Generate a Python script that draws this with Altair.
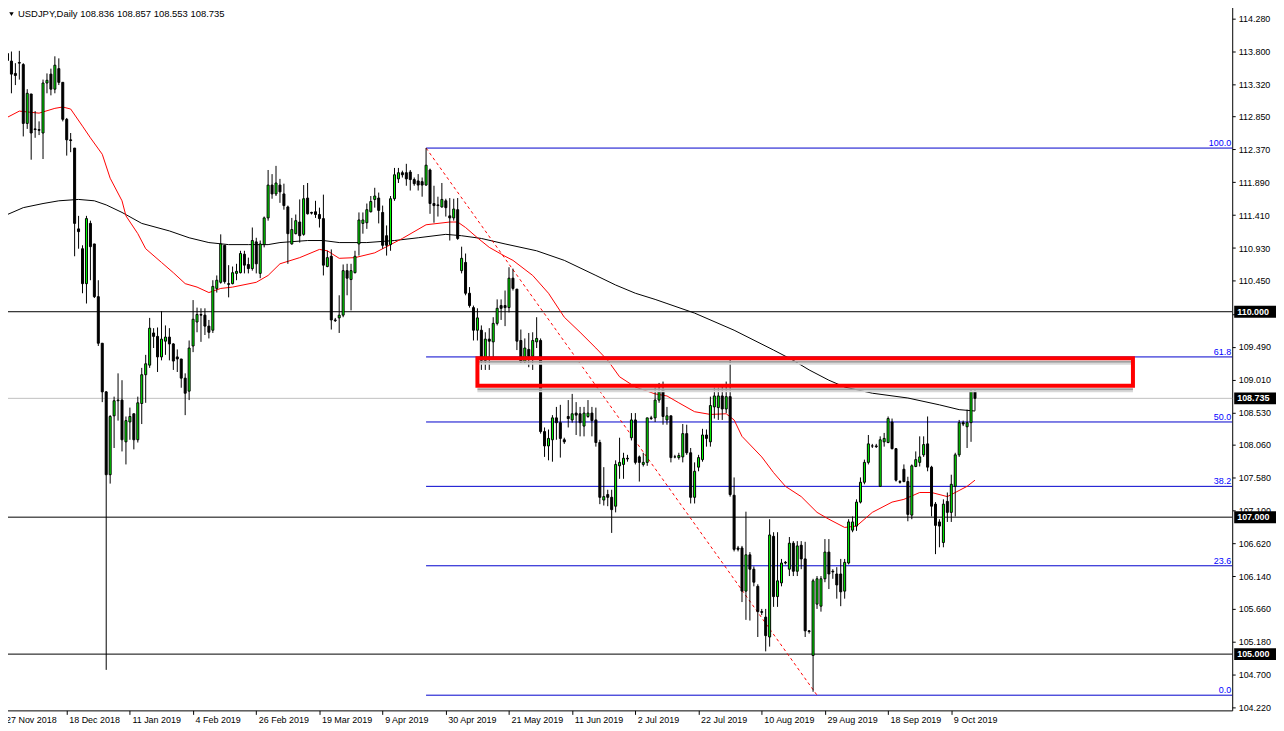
import altair as alt
import pandas as pd

# ---------------- data ----------------
symbol = "USDJPY,Daily"

opens = [
    113.77, 113.66, 113.48, 113.64, 113.61, 112.75, 113.18, 112.67, 112.66, 112.61,
    113.34, 113.47, 113.25, 113.55, 113.35, 112.81, 112.51, 112.39, 111.21, 110.92,
    110.41, 111.29, 110.99, 110.22, 109.54, 108.83, 107.62, 108.48, 108.70, 108.71,
    108.10, 108.39, 108.51, 108.13, 108.66, 109.08, 109.22, 109.69, 109.64, 109.34,
    109.57, 109.63, 109.53, 109.34, 109.31, 109.03, 108.84, 109.50, 109.85, 109.96,
    109.95, 109.79, 109.73, 110.34, 110.43, 110.97, 110.41, 110.41, 110.56, 110.57,
    110.84, 110.69, 110.63, 111.02, 110.56, 110.98, 111.37, 111.85, 111.72, 111.85,
    111.72, 111.53, 110.99, 111.14, 111.31, 111.13, 111.66, 111.45, 111.46, 111.42,
    111.36, 110.66, 110.81, 109.88, 109.91, 109.95, 110.60, 110.47, 110.57, 110.99,
    111.29, 111.30, 111.46, 111.64, 111.66, 111.45, 111.11, 110.98, 111.65, 111.94,
    112.03, 112.03, 112.04, 111.93, 111.91, 111.90, 111.85, 112.07, 111.58, 111.56,
    111.53, 111.62, 111.40, 111.37, 111.49, 110.60, 110.72, 110.27, 110.06, 109.73,
    109.73, 109.29, 109.60, 109.56, 109.83, 110.09, 110.09, 110.06, 110.49, 110.33,
    109.58, 109.27, 109.45, 109.35, 109.56, 109.58, 108.25, 108.04, 108.13, 108.45,
    108.38, 108.13, 108.47, 108.42, 108.52, 108.51, 108.33, 108.47, 108.52, 108.42,
    108.09, 107.25, 107.33, 107.29, 107.16, 107.75, 107.77, 107.86, 108.16, 108.42,
    107.88, 107.77, 107.80, 108.45, 108.45, 108.71, 108.86, 108.42, 108.48, 107.88,
    107.87, 107.88, 108.22, 107.94, 107.29, 107.73, 107.84, 108.20, 108.10, 108.61,
    108.60, 108.77, 108.58, 108.76, 107.32, 106.55, 106.55, 105.92, 106.45, 106.24,
    105.99, 105.62, 105.54, 105.25, 106.72, 105.84, 106.04, 106.34, 106.24, 106.62,
    106.21, 106.59, 106.39, 105.34, 104.98, 105.73, 105.70, 106.10, 106.49, 106.21,
    106.17, 106.17, 105.92, 106.33, 106.81, 106.87, 107.22, 107.51, 107.80, 108.04,
    108.04, 107.45, 108.10, 108.09, 108.39, 108.00, 107.52, 107.70, 107.52, 107.03,
    107.74, 107.80, 107.91, 108.07, 107.73, 107.19, 106.93, 106.63, 107.23, 107.07,
    107.45, 107.91, 108.38, 108.32, 108.38, 108.836,
]
highs = [
    114.05, 113.80, 113.63, 113.81, 113.63, 113.25, 113.18, 112.93, 112.78, 113.39,
    113.48, 113.55, 113.73, 113.70, 113.35, 112.83, 112.61, 112.39, 111.40, 110.97,
    111.40, 111.33, 110.99, 110.46, 109.54, 108.84, 108.49, 108.76, 109.10, 109.00,
    108.47, 108.60, 108.51, 108.76, 109.18, 109.37, 109.91, 109.76, 109.77, 110.01,
    109.80, 109.76, 109.54, 109.45, 109.31, 109.10, 109.58, 110.17, 110.06, 110.05,
    110.05, 109.88, 110.46, 110.53, 111.13, 110.97, 110.68, 110.66, 110.70, 110.89,
    110.89, 110.79, 111.23, 111.08, 111.04, 111.39, 112.07, 112.01, 112.13, 111.94,
    111.87, 111.55, 111.37, 111.42, 111.64, 111.85, 111.88, 111.46, 111.62, 111.52,
    111.71, 110.89, 110.91, 109.91, 110.24, 110.69, 110.70, 110.70, 110.89, 111.45,
    111.45, 111.58, 111.69, 111.81, 111.74, 111.55, 111.26, 111.69, 112.10, 112.10,
    112.06, 112.16, 112.07, 111.96, 112.01, 111.96, 112.39, 112.09, 111.84, 111.68,
    111.88, 111.65, 111.66, 111.65, 111.66, 110.95, 110.85, 110.36, 110.09, 110.05,
    109.80, 109.70, 109.76, 109.92, 110.18, 110.18, 110.31, 110.65, 110.63, 110.33,
    109.74, 109.61, 109.69, 109.70, 109.92, 109.61, 108.31, 108.28, 108.49, 108.61,
    108.64, 108.16, 108.71, 108.80, 108.68, 108.61, 108.61, 108.71, 108.61, 108.60,
    108.13, 107.73, 107.40, 107.40, 107.83, 108.16, 107.94, 107.91, 108.52, 108.52,
    107.90, 107.94, 108.45, 108.48, 108.89, 108.96, 108.98, 108.61, 108.48, 107.91,
    107.94, 108.36, 108.35, 108.01, 107.80, 107.91, 108.29, 108.28, 108.76, 108.89,
    108.89, 108.90, 108.98, 109.32, 107.58, 106.58, 106.58, 107.08, 106.49, 106.28,
    106.02, 105.66, 105.66, 106.97, 106.78, 106.78, 106.39, 106.36, 106.71, 106.65,
    106.65, 106.65, 106.64, 105.35, 106.10, 106.14, 106.14, 106.68, 106.68, 106.24,
    106.27, 106.39, 106.39, 106.97, 107.01, 107.26, 107.58, 107.84, 108.20, 108.07,
    108.07, 108.18, 108.23, 108.47, 108.44, 108.01, 107.54, 107.77, 107.59, 107.77,
    107.96, 108.18, 108.18, 108.47, 107.75, 107.22, 106.97, 107.26, 107.36, 107.62,
    107.94, 108.42, 108.41, 108.57, 108.86, 108.857,
]
lows = [
    113.63, 113.19, 113.31, 113.39, 112.56, 112.67, 112.22, 112.54, 112.58, 112.23,
    113.19, 113.16, 113.19, 113.31, 112.78, 112.28, 112.33, 110.81, 110.92, 110.27,
    110.12, 110.46, 110.20, 109.50, 108.68, 104.77, 107.49, 108.01, 108.41, 107.96,
    107.77, 108.13, 107.99, 108.09, 108.36, 108.67, 109.18, 109.47, 109.12, 109.29,
    109.37, 109.29, 109.15, 109.12, 108.89, 108.49, 108.71, 109.41, 109.70, 109.56,
    109.66, 109.61, 109.69, 110.28, 110.41, 110.41, 110.21, 110.40, 110.46, 110.56,
    110.56, 110.56, 110.60, 110.56, 110.49, 110.94, 111.33, 111.65, 111.69, 111.59,
    111.49, 110.70, 110.98, 111.13, 111.01, 111.11, 111.42, 111.42, 111.37, 111.23,
    110.53, 110.65, 109.74, 109.85, 109.69, 109.92, 110.24, 110.02, 110.56, 110.82,
    111.14, 111.21, 111.45, 111.52, 111.29, 110.92, 110.82, 110.89, 111.62, 111.88,
    111.96, 111.84, 111.77, 111.84, 111.77, 111.68, 111.84, 111.43, 111.30, 111.39,
    111.52, 111.39, 111.04, 111.33, 111.05, 110.56, 110.24, 110.06, 109.58, 109.58,
    109.15, 109.15, 109.15, 109.34, 109.80, 109.88, 109.79, 109.99, 110.31, 109.44,
    109.25, 109.25, 109.19, 109.15, 109.47, 108.22, 107.88, 107.83, 107.81, 108.13,
    107.87, 108.07, 108.31, 108.38, 108.20, 108.18, 108.18, 108.45, 108.18, 108.03,
    107.19, 107.17, 107.16, 106.77, 107.07, 107.56, 107.56, 107.81, 108.12, 107.77,
    107.52, 107.74, 107.75, 108.42, 108.39, 108.67, 108.35, 108.35, 107.80, 107.86,
    107.84, 107.80, 107.91, 107.20, 107.20, 107.67, 107.81, 108.03, 108.03, 108.44,
    108.42, 108.42, 108.52, 107.30, 106.50, 106.50, 105.76, 105.50, 105.49, 105.99,
    105.25, 105.57, 105.04, 105.11, 105.69, 105.69, 105.99, 106.31, 106.14, 106.14,
    106.14, 106.24, 105.25, 105.30, 104.45, 105.66, 105.62, 106.05, 105.95, 106.10,
    105.81, 105.70, 105.81, 106.31, 106.78, 106.80, 107.20, 107.48, 107.77, 108.01,
    108.01, 107.44, 108.03, 108.08, 107.99, 107.52, 107.49, 107.51, 106.94, 106.97,
    107.73, 107.74, 107.88, 107.67, 107.01, 106.46, 106.56, 106.56, 106.93, 106.93,
    107.01, 107.88, 108.33, 108.01, 108.10, 108.553,
]
closes = [
    113.67, 113.47, 113.45, 113.63, 112.75, 113.19, 112.61, 112.66, 112.65, 113.34,
    113.38, 113.25, 113.60, 113.35, 112.81, 112.51, 112.50, 111.29, 111.17, 110.41,
    111.36, 110.95, 110.22, 109.54, 108.83, 107.62, 108.47, 108.70, 108.71, 108.13,
    108.41, 108.47, 108.13, 108.67, 109.08, 109.24, 109.76, 109.64, 109.34, 109.60,
    109.63, 109.53, 109.28, 109.31, 109.03, 108.81, 109.47, 109.89, 109.96, 109.95,
    109.79, 109.70, 110.37, 110.46, 110.99, 110.44, 110.40, 110.57, 110.59, 110.85,
    110.68, 110.63, 111.04, 110.70, 110.99, 111.37, 111.85, 111.72, 111.88, 111.75,
    111.55, 111.14, 111.20, 111.33, 111.11, 111.65, 111.43, 111.44, 111.42, 111.36,
    110.68, 110.79, 109.88, 109.87, 109.95, 110.60, 110.49, 110.60, 110.81, 111.34,
    111.34, 111.49, 111.61, 111.69, 111.48, 110.97, 110.97, 111.65, 112.00, 112.03,
    112.00, 111.94, 111.93, 111.87, 111.85, 111.85, 112.14, 111.58, 111.55, 111.55,
    111.64, 111.52, 111.37, 111.50, 111.07, 110.78, 110.27, 110.09, 109.73, 109.91,
    109.29, 109.60, 109.57, 109.83, 110.05, 110.05, 110.06, 110.49, 110.34, 109.57,
    109.27, 109.47, 109.35, 109.58, 109.61, 108.25, 108.04, 108.15, 108.45, 108.38,
    108.15, 108.10, 108.44, 108.51, 108.49, 108.38, 108.52, 108.52, 108.41, 108.09,
    107.29, 107.30, 107.29, 107.11, 107.77, 107.80, 107.86, 107.85, 108.42, 107.80,
    107.80, 107.80, 108.45, 108.44, 108.71, 108.83, 108.47, 108.48, 107.87, 107.88,
    107.90, 108.22, 107.94, 107.29, 107.67, 107.87, 108.20, 108.15, 108.63, 108.77,
    108.77, 108.58, 108.76, 107.33, 106.53, 106.53, 105.92, 106.45, 106.24, 106.05,
    105.62, 105.61, 105.27, 106.74, 105.84, 106.07, 106.33, 106.33, 106.62, 106.21,
    106.58, 106.39, 105.34, 105.33, 106.07, 106.10, 106.10, 106.49, 106.17, 106.20,
    106.01, 105.91, 106.34, 106.93, 106.93, 107.22, 107.51, 107.80, 108.07, 108.04,
    108.03, 108.13, 108.15, 108.44, 108.00, 107.54, 107.51, 107.52, 107.04, 107.75,
    107.84, 107.88, 108.06, 107.73, 107.16, 106.88, 106.87, 107.19, 107.07, 107.48,
    107.91, 108.38, 108.36, 108.38, 108.84, 108.735,
]

# moving averages (sampled along the drawn curves)
red_ma_bars = [0, 3, 8, 12, 14, 16, 19, 21, 24, 26, 29, 30, 33, 35, 39, 42, 45, 48, 51, 54,
               57, 63, 66, 69, 74, 79, 81, 84, 88, 93, 100, 106, 112, 114, 116, 119, 122, 126, 128, 133,
               137, 141, 145, 149, 152, 155, 159, 164, 167, 170, 174, 178, 182, 184, 186, 191, 194, 197, 201, 205,
               208, 212, 215, 219, 224, 227, 231, 234, 238, 240, 243, 245]
red_ma_vals = [112.84, 112.93, 112.90, 112.97, 112.99, 112.96, 112.71, 112.54, 112.30, 111.95,
               111.62, 111.40, 111.14, 110.92, 110.72, 110.57, 110.41, 110.36, 110.28, 110.34,
               110.36, 110.43, 110.53, 110.70, 110.79, 110.91, 110.89, 110.78, 110.79, 110.86,
               111.07, 111.27, 111.31, 111.31, 111.23, 111.08, 110.94, 110.81, 110.75, 110.53,
               110.27, 109.92, 109.70, 109.47, 109.29, 109.05, 108.90, 108.80, 108.77, 108.67,
               108.54, 108.50, 108.51, 108.42, 108.18, 107.88, 107.65, 107.45, 107.30, 107.07,
               106.97, 106.85, 106.87, 107.07, 107.22, 107.26, 107.36, 107.36, 107.30, 107.36,
               107.45, 107.54]
black_ma_bars = [0, 4, 9, 13, 18, 22, 25, 29, 34, 41, 46, 51, 56, 61, 66, 69, 76, 80, 84, 91,
                 98, 104, 111, 115, 120, 126, 134, 141, 149, 154, 159, 164, 167, 174, 184, 194, 199, 203, 208, 212,
                 219, 228, 236, 241, 245]
black_ma_vals = [111.42, 111.52, 111.58, 111.62, 111.64, 111.62, 111.56, 111.45, 111.29, 111.18,
                 111.08, 111.01, 110.98, 110.98, 110.98, 111.01, 111.04, 111.04, 111.01, 111.01,
                 111.04, 111.08, 111.13, 111.11, 111.07, 110.99, 110.89, 110.75, 110.53, 110.39,
                 110.27, 110.18, 110.12, 109.98, 109.73, 109.44, 109.29, 109.15, 109.00, 108.90,
                 108.81, 108.74, 108.64, 108.57, 108.55]

# horizontal levels, fibonacci, trend line, box
level_prices = [110.0, 107.0, 105.0]
last_price = 108.735
fib_levels = ["100.0", "61.8", "50.0", "38.2", "23.6", "0.0"]
fib_prices = [112.39, 109.34, 108.39, 107.45, 106.29, 104.40]
fib_start_bar = 106
trend_bars = [106, 205]
trend_prices = [112.39, 104.40]
box_bars = [119, 285]
box_prices = [109.32, 108.92]

# axes
y_ticks = [114.28, 113.80, 113.32, 112.85, 112.37, 111.89, 111.41, 110.93, 110.45, 109.97,
           109.49, 109.01, 108.53, 108.06, 107.58, 107.10, 106.62, 106.14, 105.66, 105.18,
           104.70, 104.22]
date_labels = ["27 Nov 2018", "18 Dec 2018", "11 Jan 2019", "4 Feb 2019", "26 Feb 2019",
               "19 Mar 2019", "9 Apr 2019", "30 Apr 2019", "21 May 2019", "11 Jun 2019",
               "2 Jul 2019", "22 Jul 2019", "10 Aug 2019", "29 Aug 2019", "18 Sep 2019",
               "9 Oct 2019"]
date_bars = [-1, 15, 31, 47, 63, 79, 95, 111, 127, 143, 159, 175, 191, 207, 223, 239]

# ---------------- chart ----------------
FONT = "Liberation Sans"
W, H = 1238, 712
PX_PER_BAR = 4.0
PX_PER_YEN = 68.8
TOP_PRICE = 114.527
X_DOMAIN = [-0.625, -0.625 + W / PX_PER_BAR]
Y_DOMAIN = [TOP_PRICE - H / PX_PER_YEN, TOP_PRICE]

n = len(opens)
candles = pd.DataFrame({"bar": list(range(n)), "open": opens, "high": highs,
                        "low": lows, "close": closes})
candles["dir"] = ["up" if c > o else "down" for o, c in zip(opens, closes)]

label_expr = ("[" + ",".join(f"'{d}'" for d in date_labels) + "][indexof(["
              + ",".join(str(b) for b in date_bars) + "], datum.value)]")

x_axis = alt.Axis(values=date_bars, labelExpr=label_expr, title=None, grid=False,
                  domainColor="black", domainWidth=1, tickColor="black", tickSize=4,
                  labelAlign="left", labelBaseline="top", labelPadding=1, labelOffset=2,
                  labelFont=FONT, labelFontSize=9, labelColor="black",
                  labelFlush=False, labelOverlap=False, labelBound=False)
y_axis = alt.Axis(orient="right", values=y_ticks, format=".3f", title=None, grid=False,
                  domainColor="black", domainWidth=1, tickColor="black", tickSize=3,
                  labelPadding=3, labelAlign="left", labelBaseline="middle",
                  labelFont=FONT, labelFontSize=9, labelColor="black",
                  labelFlush=False, labelOverlap=False)


def X(f):
    return alt.X(f"{f}:Q", scale=alt.Scale(domain=X_DOMAIN, nice=False, zero=False), axis=x_axis)


def Y(f):
    return alt.Y(f"{f}:Q", scale=alt.Scale(domain=Y_DOMAIN, nice=False, zero=False), axis=y_axis)


levels_df = pd.DataFrame({"p": level_prices, "label": [f"{v:.3f}" for v in level_prices]})
last_df = pd.DataFrame({"p": [last_price], "label": [f"{last_price:.3f}"]})
fib_df = pd.DataFrame({"bar": [fib_start_bar] * len(fib_prices), "p": fib_prices, "label": fib_levels})
trend_df = pd.DataFrame({"bar": trend_bars, "p": trend_prices})
red_df = pd.DataFrame({"bar": red_ma_bars, "p": red_ma_vals})
black_df = pd.DataFrame({"bar": black_ma_bars, "p": black_ma_vals})
box_df = pd.DataFrame({"b1": [box_bars[0]], "b2": [box_bars[1]],
                       "p1": [box_prices[0]], "p2": [box_prices[1]]})
box_edges = pd.DataFrame({"b1": [box_bars[0]] * 2, "b2": [box_bars[1]] * 2, "p": box_prices})
title_df = pd.DataFrame({"t": [f"{symbol}  {opens[-1]:.3f} {highs[-1]:.3f} {lows[-1]:.3f} {closes[-1]:.3f}"]})

level_lines = alt.Chart(levels_df).mark_rule(color="black", strokeWidth=1).encode(y=Y("p"))
last_line = alt.Chart(last_df).mark_rule(color="#C0C0C0", strokeWidth=1).encode(y=Y("p"))
fib_lines = alt.Chart(fib_df).mark_rule(color="#0000CD", strokeWidth=1).encode(
    x=X("bar"), x2=alt.value(W), y=Y("p"))
black_ma = alt.Chart(black_df).mark_line(color="black", strokeWidth=1).encode(x=X("bar"), y=Y("p"))
red_ma = alt.Chart(red_df).mark_line(color="#FF0000", strokeWidth=1).encode(x=X("bar"), y=Y("p"))
trend = alt.Chart(trend_df).mark_line(color="#FF0000", strokeWidth=1, strokeDash=[3, 3]).encode(
    x=X("bar"), y=Y("p"))
wicks = alt.Chart(candles).mark_rule(color="black", strokeWidth=1).encode(
    x=X("bar"), y=Y("low"), y2="high")
bodies = alt.Chart(candles).mark_bar(width=2, stroke="black", strokeWidth=1).encode(
    x=X("bar"), y=Y("open"), y2="close",
    fill=alt.Fill("dir:N", scale=alt.Scale(domain=["up", "down"], range=["#00FF00", "#000000"]),
                  legend=None))
# soft grey shadow under the two horizontal edges of the red box
shadow_dark = alt.Chart(box_edges).mark_rule(color="#a0a0a0", strokeWidth=2, yOffset=3.5).encode(
    x=X("b1"), x2="b2", y=Y("p"))
shadow_light = alt.Chart(box_edges).mark_rule(color="#d8d8d8", strokeWidth=2, yOffset=5.5).encode(
    x=X("b1"), x2="b2", y=Y("p"))
box = alt.Chart(box_df).mark_rect(fill="transparent", stroke="#FF0000", strokeWidth=4).encode(
    x=X("b1"), x2="b2", y=Y("p1"), y2="p2")
fib_text = alt.Chart(fib_df).mark_text(align="right", baseline="alphabetic", dy=-2,
                                       font=FONT, fontSize=9, color="#0000FF").encode(
    x=alt.value(W - 1), y=Y("p"), text="label:N")

tags_df = pd.concat([levels_df, last_df], ignore_index=True)
tag_boxes = alt.Chart(tags_df).mark_rule(color="black", strokeWidth=12, strokeCap="butt").encode(
    x=alt.value(W + 2), x2=alt.value(W + 44), y=Y("p"))
tag_text = alt.Chart(tags_df).mark_text(align="left", baseline="middle", font=FONT, fontSize=9,
                                        fontWeight="bold", color="white").encode(
    x=alt.value(W + 5), y=Y("p"), text="label:N")
title_text = alt.Chart(title_df).mark_text(align="left", baseline="middle", font=FONT, fontSize=9.5,
                                           color="black").encode(
    x=alt.value(18), y=alt.value(12.5), text="t:N")
title_tri = alt.Chart(title_df).mark_point(shape="triangle-down", filled=True, color="black",
                                           size=20, opacity=1).encode(
    x=alt.value(11.5), y=alt.value(12.5))

chart = alt.layer(
    level_lines, last_line, fib_lines, black_ma, red_ma, trend, wicks, bodies,
    shadow_light, shadow_dark, box, fib_text, tag_boxes, tag_text, title_tri, title_text,
).properties(
    width=W, height=H,
    padding={"left": -8, "top": -8, "right": 44, "bottom": 19},
    autosize=alt.AutoSizeParams(type="none"),
    background="white",
).configure_view(strokeWidth=0)

chart.save("out.html", embed_options={"renderer": "svg", "actions": False})
